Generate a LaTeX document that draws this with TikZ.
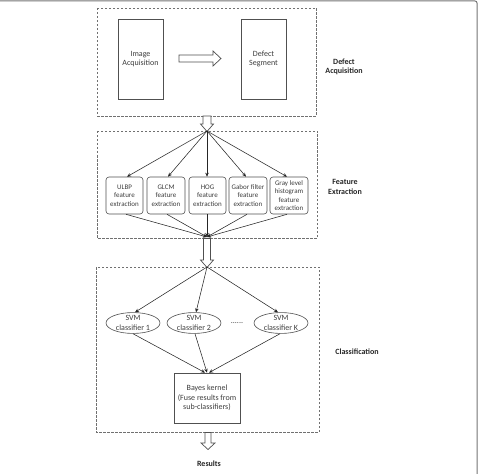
\documentclass[tikz,border=0pt]{standalone}
\usepackage{fontspec}
\setmainfont{Carlito}
\usetikzlibrary{arrows.meta,shapes.geometric}
\definecolor{txt}{HTML}{3C3C3C}
\definecolor{edge}{HTML}{505050}
\definecolor{dash}{HTML}{707070}
\tikzset{
  lbl/.style={font=\fontsize{8}{9.5}\selectfont, text=txt, align=center},
  stagelbl/.style={font=\fontsize{8}{9.5}\selectfont\bfseries, text=black!85, align=center},
  stagebox/.style={draw=dash, dashed, dash pattern=on 2.5pt off 1.5pt, line width=0.6pt},
  tallbox/.style={draw=edge, line width=0.7pt, minimum width=45pt, minimum height=80pt, lbl},
  featbox/.style={draw=edge, line width=0.6pt, rounded corners=3pt, minimum height=37pt, inner sep=1pt,
     font=\fontsize{7}{8.3}\selectfont, text=txt, align=center},
  svm/.style={draw=edge, line width=0.6pt, ellipse, minimum width=54pt, minimum height=19pt, inner sep=0pt, lbl},
  conn/.style={draw=black!85, line width=0.55pt, -{Stealth[length=4pt,width=3.5pt]}},
  hollow/.style={draw=edge, line width=0.7pt, fill=white}
}
\begin{document}
\begin{tikzpicture}[x=1pt,y=-1pt]
\useasboundingbox (0,0) rectangle (481,473);
% outer frame (top and right)
\draw[black!55, line width=1pt, rounded corners=2pt] (0,1) -- (477,1) -- (477,474);

% stage boxes
\draw[stagebox] (97,8) rectangle (316,116);
\draw[stagebox] (97,131) rectangle (317,238);
\draw[stagebox] (96,267) rectangle (319,432);

% stage labels
\node[stagelbl] (lda) at (344,67) {Defect\\Acquisition};
\node[stagelbl] (lfe) at (345,187) {Feature\\Extraction};
\node[stagelbl] (lcl) at (357,352) {Classification};
\node[stagelbl] (lres) at (209,464) {Results};

% defect acquisition
\node[tallbox] (ia) at (140.5,59) {Image\\Acquisition};
\node[tallbox] (ds) at (263.5,59) {Defect\\Segment};
\draw[hollow] (179,55) -- (213,55) -- (213,51) -- (221,58.5) -- (213,66) -- (213,62) -- (179,62) -- cycle;

% hollow arrow 1
\draw[hollow] (203,116) -- (211,116) -- (211,124) -- (213.5,124) -- (207,131.5) -- (200.5,124) -- (203,124) -- cycle;

% feature extraction
\coordinate (fan1) at (207,131);
\node[featbox, minimum width=37pt] (b1) at (124.5,195.5) {ULBP\\feature\\extraction};
\node[featbox, minimum width=38pt] (b2) at (166,195.5) {GLCM\\feature\\extraction};
\node[featbox, minimum width=37pt] (b3) at (207.5,195.5) {HOG\\feature\\extraction};
\node[featbox, minimum width=38pt] (b4) at (248,195.5) {Gabor filter\\feature\\extraction};
\node[featbox, minimum width=38pt] (b5) at (289,195.5) {Gray level\\histogram\\feature\\extraction};
\coordinate (merge) at (207,237);
\draw[conn] (fan1) -- ([xshift=2.5pt]b1.north);
\draw[conn] (fan1) -- ([xshift=2pt]b2.north);
\draw[conn] (fan1) -- ([xshift=-0.5pt]b3.north);
\draw[conn] (fan1) -- ([xshift=-2pt]b4.north);
\draw[conn] (fan1) -- ([xshift=-2pt]b5.north);
\draw[conn] ([xshift=1.5pt]b1.south) -- (merge);
\draw[conn] ([xshift=1pt]b2.south) -- (merge);
\draw[conn] ([xshift=-0.5pt]b3.south) -- (merge);
\draw[conn] ([xshift=-1pt]b4.south) -- (merge);
\draw[conn] ([xshift=-2pt]b5.south) -- (merge);

% hollow arrow 2
\draw[hollow] (203.5,238.5) -- (210.5,238.5) -- (210.5,260) -- (213.5,260) -- (207,267.5) -- (200.5,260) -- (203.5,260) -- cycle;

% classification
\coordinate (fan2) at (207,267);
\node[svm] (e1) at (133,323) {SVM\\classifier 1};
\node[svm] (e2) at (194,323) {SVM\\classifier 2};
\node[svm] (e3) at (281,323) {SVM\\classifier K};
\node[lbl] (dots) at (237,323) {......};
\node[draw=edge, line width=0.7pt, minimum width=66pt, minimum height=50pt, lbl] (bk) at (207,398) {Bayes kernel\\(Fuse results from\\sub-classifiers)};
\draw[conn] (fan2) -- ([xshift=2pt]e1.north);
\draw[conn] (fan2) -- ([xshift=2pt]e2.north);
\draw[conn] (fan2) -- ([xshift=-3pt]e3.north);
\draw[conn] (e1.south) -- ([xshift=-2pt]bk.north);
\draw[conn] ([xshift=1pt]e2.south) -- (bk.north);
\draw[conn] ([xshift=-1pt]e3.south) -- ([xshift=2pt]bk.north);

% hollow arrow 3
\draw[hollow] (205,432.5) -- (211,432.5) -- (211,443) -- (215,443) -- (208,449.5) -- (201,443) -- (205,443) -- cycle;
\end{tikzpicture}
\end{document}
